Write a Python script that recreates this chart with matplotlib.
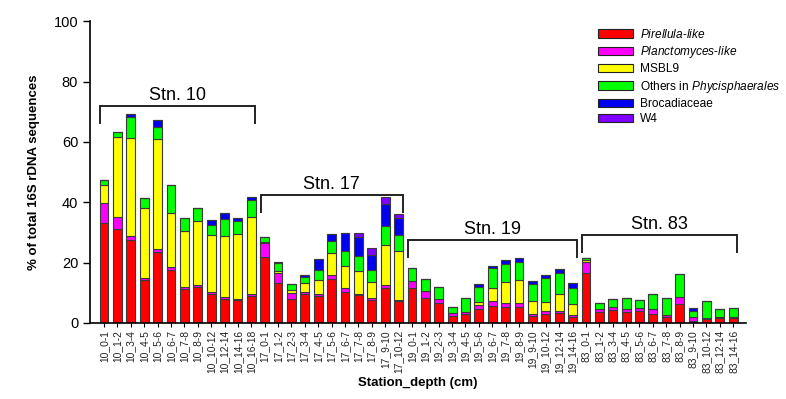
import numpy as np
import matplotlib
matplotlib.use('Agg')
import matplotlib.pyplot as plt
from matplotlib.patches import Patch

plt.rcParams['font.family'] = ['Liberation Sans', 'DejaVu Sans']
plt.rcParams['mathtext.fontset'] = 'custom'
plt.rcParams['mathtext.rm'] = 'Liberation Sans'
plt.rcParams['mathtext.it'] = 'Liberation Sans:italic'

# station / depth labels
stations = ['10'] * 12 + ['17'] * 11 + ['19'] * 13 + ['83'] * 12
depths = ['0-1', '1-2', '3-4', '4-5', '5-6', '6-7', '7-8', '8-9', '10-12', '12-14', '14-16', '16-18',
          '0-1', '1-2', '2-3', '3-4', '4-5', '5-6', '6-7', '7-8', '8-9', '9-10', '10-12',
          '0-1', '1-2', '2-3', '3-4', '4-5', '5-6', '6-7', '7-8', '8-9', '9-10', '10-12', '12-14', '14-16',
          '0-1', '1-2', '3-4', '4-5', '5-6', '6-7', '7-8', '8-9', '9-10', '10-12', '12-14', '14-16']
labels = [s + '_' + d for s, d in zip(stations, depths)]

pirellula = [33.2, 31.0, 27.5, 14.2, 23.4, 17.5, 11.3, 11.8, 9.6, 7.9, 7.6, 8.9,
             21.7, 13.4, 8.1, 9.5, 8.9, 14.5, 10.4, 9.3, 7.6, 11.5, 7.3,
             11.5, 8.4, 6.7, 2.3, 2.9, 4.5, 5.6, 5.4, 5.2, 2.3, 2.9, 3.2, 2.1,
             16.5, 3.5, 4.3, 3.8, 4.1, 2.9, 1.9, 6.2, 0.8, 1.2, 1.8, 1.6]
planctomyces = [6.4, 4.0, 1.3, 0.7, 1.2, 1.1, 0.6, 0.7, 0.7, 0.6, 0.3, 0.7,
                4.7, 3.3, 1.7, 0.9, 0.6, 1.4, 1.1, 0.4, 0.6, 1.0, 0.3,
                2.5, 2.3, 1.1, 0.9, 0.9, 1.5, 1.7, 1.3, 1.5, 0.7, 1.2, 0.9, 0.5,
                3.8, 1.0, 0.9, 0.8, 1.0, 1.6, 0.8, 2.5, 1.1, 0.4, 0.3, 0.5]
msbl9 = [6.1, 26.5, 32.5, 23.1, 36.3, 17.9, 18.7, 21.3, 18.8, 20.3, 21.5, 25.6,
         0.4, 0.6, 1.1, 3.0, 4.7, 7.2, 7.4, 7.6, 5.5, 13.3, 16.1,
         0, 0, 0, 0, 0, 1.1, 4.2, 7.0, 7.5, 4.4, 3.0, 5.4, 3.7,
         0.6, 0, 0, 0, 0, 0, 0, 0, 0, 0, 0, 0]
others = [1.8, 1.9, 6.8, 3.3, 3.9, 9.3, 4.1, 4.2, 3.5, 5.7, 4.4, 5.5,
          1.6, 2.7, 2.0, 1.7, 3.3, 4.0, 4.8, 4.9, 3.8, 6.3, 5.4,
          4.2, 4.0, 4.2, 2.2, 4.6, 4.9, 6.6, 5.7, 6.1, 5.5, 7.7, 7.0, 5.2,
          0.7, 2.2, 2.6, 3.8, 2.5, 5.0, 5.5, 7.4, 2.1, 5.7, 2.5, 2.8]
brocadiaceae = [0, 0, 1.1, 0, 2.3, 0, 0, 0, 1.4, 1.8, 1.1, 0.9,
                0, 0.3, 0, 0.8, 3.6, 2.3, 6.0, 6.2, 5.0, 7.3, 5.6,
                0, 0, 0, 0, 0, 0.8, 0.9, 1.5, 1.3, 1.1, 1.1, 1.3, 1.6,
                0, 0, 0, 0, 0, 0, 0, 0, 1.1, 0, 0, 0]
w4 = [0] * 19 + [1.3, 2.2, 2.2, 1.4] + [0] * 25

series = [pirellula, planctomyces, msbl9, others, brocadiaceae, w4]
names = [r'$\it{Pirellula}$-$\it{like}$', r'$\it{Planctomyces}$-$\it{like}$', 'MSBL9',
         r'Others in $\it{Phycisphaerales}$', 'Brocadiaceae', 'W4']
colors = ['#FF0000', '#FF00FF', '#FFFF00', '#00FF00', '#0000F0', '#7F00FF']

# station brackets: (name, first bar, last bar, bracket y)
brackets = [('Stn. 10', 0, 11, 71.8), ('Stn. 17', 12, 22, 42.4),
            ('Stn. 19', 23, 35, 27.5), ('Stn. 83', 36, 47, 29.1)]

fig = plt.figure(figsize=(7.86, 3.99), dpi=100)
ax = fig.add_axes([0.1145, 0.1905, 0.8345, 0.7565])

x = np.arange(len(labels))
bottom = np.zeros(len(labels))
for vals, c in zip(series, colors):
    v = np.array(vals, dtype=float)
    ax.bar(x, v, 0.66, bottom=bottom, color=c, edgecolor='#3a3a3a', linewidth=0.8)
    bottom += v

for name, i0, i1, yb in brackets:
    xa, xb = i0 - 0.3, i1 + 0.3
    ax.plot([xa, xa, xb, xb], [yb - 5.5, yb, yb, yb - 5.5], color='#222222', lw=1.4,
            solid_joinstyle='miter', clip_on=False)
    ax.text((xa + xb) / 2, yb + 2.0, name, ha='center', va='baseline', fontsize=13)

ax.set_xlim(-1.05, 47.95)
ax.set_ylim(0, 100)
ax.set_yticks([0, 20, 40, 60, 80, 100])
ax.set_xticks(x)
ax.set_xticklabels(labels, rotation=90, fontsize=7.4, color='#222222')
ax.tick_params(axis='y', labelsize=10.5, direction='out', length=5, width=1)
ax.tick_params(axis='x', direction='out', length=3, width=0.8, pad=2)
for s in ['top', 'right']:
    ax.spines[s].set_visible(False)
for s in ['left', 'bottom']:
    ax.spines[s].set_linewidth(1.2)

ax.set_ylabel('% of total 16S rDNA sequences', fontsize=9.5, fontweight='bold', labelpad=10)
ax.set_xlabel('Station_depth (cm)', fontsize=9.5, fontweight='bold', labelpad=3)

handles = [Patch(facecolor=c, edgecolor='#222222', linewidth=0.8) for c in colors]
ax.legend(handles, names, loc='upper left', bbox_to_anchor=(0.765, 1.0), frameon=False,
          fontsize=8.6, handlelength=2.9, handleheight=0.7, labelspacing=0.28,
          handletextpad=0.6, borderaxespad=0.15)

fig.savefig('out.png', dpi=100)
